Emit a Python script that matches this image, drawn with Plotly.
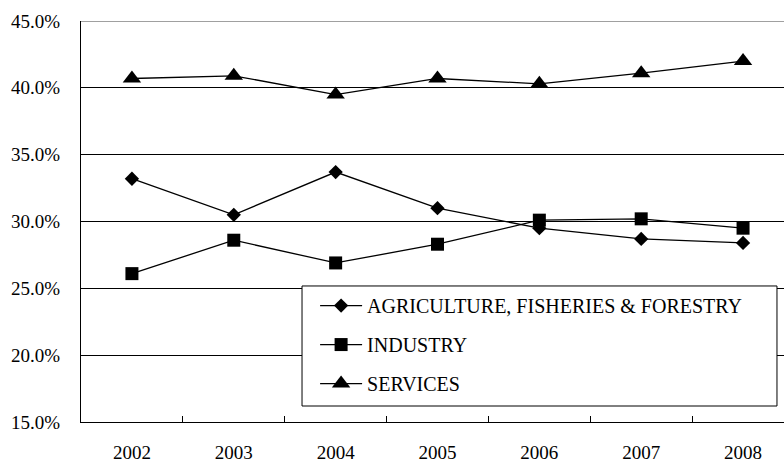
import plotly.graph_objects as go

# ============================================================================
# DATA (share of GDP by sector, %)
# ============================================================================

years = ["2002", "2003", "2004", "2005", "2006", "2007", "2008"]

agriculture = [33.2, 30.5, 33.7, 31.0, 29.5, 28.7, 28.4]
industry = [26.1, 28.6, 26.9, 28.3, 30.1, 30.2, 29.5]
services = [40.7, 40.9, 39.5, 40.7, 40.3, 41.1, 42.0]

series = [
    ("AGRICULTURE, FISHERIES & FORESTRY", agriculture, "diamond", 11),
    ("INDUSTRY", industry, "square", 13),
    ("SERVICES", services, "triangle-up", 16),
]

FONT = "Liberation Serif, Tinos, Times New Roman, Times, DejaVu Serif, Noto Serif, serif"

# ============================================================================
# FIGURE
# ============================================================================

fig = go.Figure()

for i, (name, values, symbol, msize) in enumerate(series):
    fig.add_trace(go.Scatter(
        x=years,
        y=values,
        name=name,
        mode="lines+markers",
        legendgroup=f"g{i}",
        line=dict(color="black", width=1.3),
        marker=dict(symbol=symbol, size=msize, color="black"),
    ))

# top border line at 45%
fig.add_shape(
    type="line", xref="paper", x0=0, x1=1, yref="y", y0=45, y1=45,
    line=dict(color="#808080", width=1.5),
)

# legend frame (wider than plotly's auto-sized legend box)
fig.add_shape(
    type="rect", xref="paper", yref="paper",
    x0=0.3144, x1=0.9900, y0=0.0399, y1=0.3392,
    line=dict(color="black", width=1),
    fillcolor="white",
    layer="above",
)

fig.update_layout(
    width=784,
    height=464,
    margin=dict(l=81, r=0, t=21, b=42, autoexpand=False),
    paper_bgcolor="white",
    plot_bgcolor="white",
    font=dict(family=FONT, size=19, color="black"),
    showlegend=True,
    legend=dict(
        x=0.333,
        xanchor="left",
        y=0.339,
        yanchor="top",
        bgcolor="rgba(0,0,0,0)",
        borderwidth=0,
        font=dict(family=FONT, size=20, color="black"),
        itemwidth=42,
        tracegroupgap=10,
        traceorder="grouped",
    ),
    xaxis=dict(
        type="category",
        range=[-0.5, 6.402],
        automargin=False,
        showline=True,
        linecolor="black",
        linewidth=1,
        ticks="inside",
        ticklen=6,
        tickcolor="black",
        tickson="boundaries",
        showgrid=False,
        ticklabelstandoff=13,
        zeroline=False,
    ),
    yaxis=dict(
        range=[15, 45],
        dtick=5,
        tickformat=".1f",
        ticksuffix="%",
        automargin=False,
        showline=True,
        linecolor="black",
        linewidth=1,
        ticks="inside",
        ticklen=6,
        tickcolor="black",
        showgrid=True,
        gridcolor="black",
        gridwidth=1,
        ticklabelstandoff=16,
        zeroline=False,
    ),
)

# page body has a default 8px margin; drop it so the figure sits at 0,0
fig.write_html(
    "out.html",
    config={"displayModeBar": False},
    post_script="document.body.style.margin='0';",
)
